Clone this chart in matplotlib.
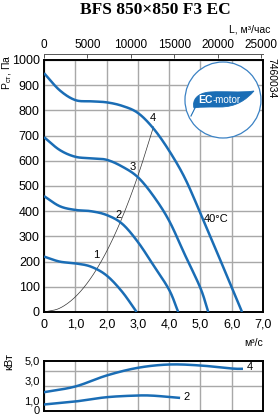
import numpy as np
import matplotlib
matplotlib.use("Agg")
import matplotlib.pyplot as plt
from matplotlib.patches import Ellipse, PathPatch
from matplotlib.path import Path

# ---- data (flow in m3/s, pressure in Pa, power in kW) ----
q1 = [0, 0.5, 1.0, 1.5, 2.0, 2.5, 2.96]
p1 = [220, 200, 193, 180, 145, 80, 0]

q2 = [0, 0.5, 1.0, 1.5, 2.0, 2.5, 3.0, 3.5, 4.0, 4.29]
p2 = [460, 420, 405, 400, 385, 350, 278, 185, 88, 0]

q3 = [0, 0.5, 1.0, 1.5, 2.0, 2.5, 3.0, 3.5, 4.0, 4.5, 5.0, 5.25]
p3 = [694, 643, 616, 610, 604, 577, 535, 460, 362, 228, 95, 0]

q4 = [0, 0.5, 1.0, 1.5, 2.0, 2.5, 3.0, 3.5, 4.0, 4.5, 5.0, 5.5, 6.0, 6.33]
p4 = [948, 880, 841, 836, 832, 818, 790, 728, 640, 532, 392, 246, 97, 0]

q_sys = [0, 0.5, 1.0, 1.5, 2.0, 2.5, 3.0, 3.5]
p_sys = [0, 15, 60, 135, 240, 375, 540, 735]

qn2 = [0, 1.0, 2.0, 3.0, 3.5, 4.0, 4.31]
n2 = [0.6, 0.9, 1.33, 1.5, 1.48, 1.35, 1.27]
qn4 = [0, 1.0, 2.0, 3.0, 4.0, 5.0, 6.0, 6.32]
n4 = [1.83, 2.4, 3.5, 4.27, 4.6, 4.5, 4.2, 4.17]

x_ticks = [0, 1, 2, 3, 4, 5, 6, 7]
x_ticklabels = ["0", "1,0", "2,0", "3,0", "4,0", "5,0", "6,0", "7,0"]
y_ticks = [0, 100, 200, 300, 400, 500, 600, 700, 800, 900, 1000]
top_ticks = [0, 5000, 10000, 15000, 20000, 25000]
n_ticks = [0, 1, 3, 5]
n_ticklabels = ["0", "1,0", "3,0", "5,0"]
n_grid = [1.0, 2.5, 4.0]

curve_labels = [("1", 1.68, 226), ("2", 2.37, 385), ("3", 2.85, 575), ("4", 3.47, 770)]

BLUE = "#1a6db5"
GRID = "#a8a8a8"
FONT = ["Liberation Sans Narrow", "Liberation Sans", "DejaVu Sans"]

plt.rcParams.update({"font.family": FONT, "font.size": 8.5,
                     "mathtext.fontset": "custom",
                     "mathtext.rm": "Liberation Sans"})


def smooth(x, y, n=24):
    # Catmull-Rom through the read points
    p = np.column_stack([np.asarray(x, float), np.asarray(y, float)])
    p = np.vstack([2 * p[0] - p[1], p, 2 * p[-1] - p[-2]])
    t = np.linspace(0, 1, n, endpoint=False)[:, None]
    out = []
    for i in range(1, len(p) - 2):
        a, b, c, d = p[i - 1], p[i], p[i + 1], p[i + 2]
        out.append(0.5 * (2 * b + (c - a) * t + (2 * a - 5 * b + 4 * c - d) * t ** 2
                          + (-a + 3 * b - 3 * c + d) * t ** 3))
    out.append(p[-2][None])
    s = np.vstack(out)
    return s[:, 0], s[:, 1]


def px(x, y):
    # figure pixel -> main-axes data coords (for the logo decoration only)
    return (x - 44) / 31.29, (312 - y) / 0.252


fig = plt.figure(figsize=(2.79, 4.16), dpi=100)
ax = fig.add_axes([44 / 279, 1 - 312 / 416, 219 / 279, 252 / 416])
axn = fig.add_axes([44 / 279, 1 - 410.5 / 416, 219 / 279, 50 / 416])

# ---- main chart ----
for xs, ys in [(q1, p1), (q2, p2), (q3, p3), (q4, p4)]:
    sx, sy = smooth(xs, ys)
    ax.plot(sx, sy, color=BLUE, lw=1.8, zorder=3, solid_capstyle="butt")
sx, sy = smooth(q_sys, p_sys)
ax.plot(sx, sy, color="#333333", lw=0.5, zorder=2)

for txt, lx, ly in curve_labels:
    ax.text(lx, ly, txt, fontsize=8, ha="center", va="center", zorder=4)
ax.text(5.12, 369, "40°C", fontsize=8, ha="left", va="center", zorder=4)

ax.set_xlim(0, 7)
ax.set_ylim(0, 1000)
ax.set_xticks(x_ticks)
ax.set_xticklabels(x_ticklabels)
ax.set_yticks(y_ticks)
ax.grid(True, color=GRID, lw=1.0, zorder=1)
ax.tick_params(length=0, pad=3, labelsize=9)
ax.tick_params(axis="x", pad=5)
for sp in ax.spines.values():
    sp.set_linewidth(1.4)

# EC-motor logo
cx, cy = px(223, 100)
ax.add_patch(Ellipse((cx, cy), 2 * 38 / 31.29, 2 * 38 / 0.252, fc="white",
                     ec="#3b82c4", lw=0.9, zorder=5))
leaf_px = [(194, 108),
           (192, 100), (197, 93), (210, 92),
           (225, 91), (240, 93), (254, 91),
           (246, 100), (236, 107), (220, 107),
           (205, 107), (198, 107), (194, 108),
           (194, 108)]
codes = [Path.MOVETO] + [Path.CURVE4] * 12 + [Path.CLOSEPOLY]
ax.add_patch(PathPatch(Path([px(*p) for p in leaf_px], codes),
                       fc=BLUE, ec=BLUE, lw=0.6, zorder=6))
stem = [px(196, 106), px(191, 116)]
ax.plot([stem[0][0], stem[1][0]], [stem[0][1], stem[1][1]], color=BLUE, lw=0.8, zorder=6)
ex, ey = px(198, 100)
ax.text(ex, ey, "EC", color="white", fontsize=7.5, fontweight="bold",
        ha="left", va="center", zorder=7, family=["Liberation Sans"])
mx, my = px(213, 100)
ax.text(mx, my, "-motor", color="white", fontsize=7,
        ha="left", va="center", zorder=7, family=["Liberation Sans"])

# top axis in m3/h
top = ax.secondary_xaxis(1 + 6 / 252, functions=(lambda v: v * 3600, lambda v: v / 3600))
top.set_xticks(top_ticks)
top.tick_params(length=3, width=0.7, pad=2, labelsize=8.5, color="#555555",
                direction="in")
top.spines["top"].set_linewidth(0.7)
top.spines["top"].set_color("#555555")

# ---- power panel ----
for xs, ys in [(qn2, n2), (qn4, n4)]:
    sx, sy = smooth(xs, ys)
    axn.plot(sx, sy, color=BLUE, lw=1.8, zorder=3)
axn.text(4.45, 1.3, "2", fontsize=8, ha="left", va="center")
axn.text(6.48, 4.4, "4", fontsize=8, ha="left", va="center")
axn.set_xlim(0, 7)
axn.set_ylim(0, 5)
axn.set_xticks(x_ticks)
axn.set_xticklabels([])
axn.set_yticks(n_ticks)
axn.set_yticklabels(n_ticklabels)
axn.set_yticks(n_grid, minor=True)
axn.grid(True, which="major", axis="x", color=GRID, lw=1.0, zorder=1)
axn.grid(True, which="minor", axis="y", color=GRID, lw=1.0, zorder=1)
axn.tick_params(which="both", length=0, pad=3, labelsize=8)
for sp in axn.spines.values():
    sp.set_linewidth(1.4)

# ---- texts ----
fig.text(155 / 279, 1 - 10 / 416, "BFS 850×850 F3 EC", ha="center", va="center",
         fontsize=12.5, fontweight="bold", family=["Liberation Serif"])
fig.text(270 / 279, 1 - 29 / 416, "L, м³/час", ha="right", va="center", fontsize=7.5)
fig.text(263 / 279, 1 - 343 / 416, "м³/с", ha="right", va="center", fontsize=7.5)
fig.text(7 / 279, 1 - 72 / 416, r"Р$_{\mathregular{ст}}$, Па", rotation=90,
         ha="center", va="center", fontsize=7.5)
fig.text(9 / 279, 1 - 361 / 416, "кВт", rotation=90, ha="center", va="center", fontsize=8)
fig.text(271 / 279, 1 - 78 / 416, "7460034", rotation=-90, ha="center", va="center",
         fontsize=7.5)

fig.savefig("out.png", dpi=100)
